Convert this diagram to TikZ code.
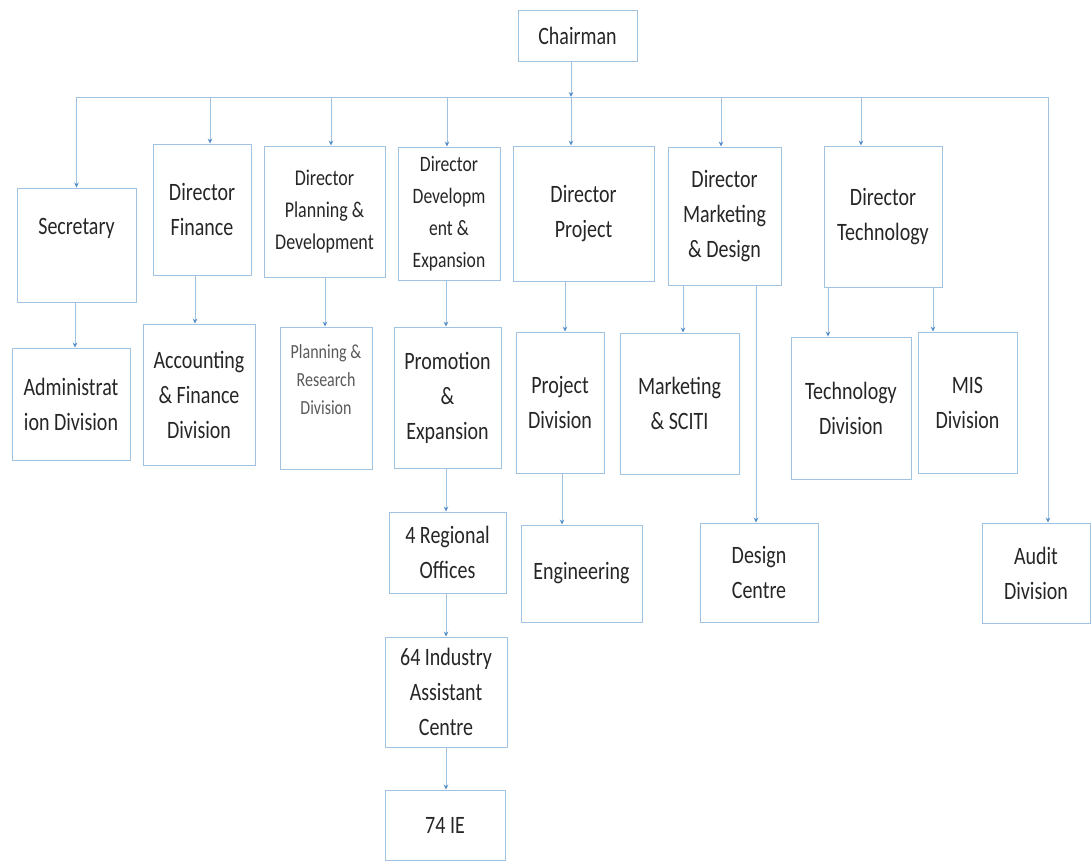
\documentclass[tikz,border=0pt]{standalone}
\usepackage{fontspec}
\setmainfont{Carlito}[FakeStretch=0.8]
\usetikzlibrary{arrows.meta}
\definecolor{boxblue}{RGB}{160,195,228}
\definecolor{tipblue}{RGB}{80,140,200}
\definecolor{inkgray}{RGB}{38,38,38}

\begin{document}
\begin{tikzpicture}[
      x=1pt,
      y=-1pt,
      txt/.style={
        text=inkgray,
        align=center,
        font=\fontsize{25}{35}\selectfont
      },
      box/.style 2 args={
        txt,
        draw=boxblue,
        line width=0.9pt,
        inner sep=2pt,
        minimum width=#1pt,
        minimum height=#2pt
      },
      conn/.style={
        draw=boxblue,
        line width=0.9pt,
        -{Stealth[length=5pt,width=4.5pt,color=tipblue]}
      },
      bus/.style={draw=boxblue, line width=0.9pt}
    ]
      \useasboundingbox (0,0) rectangle (1091,863);

      \node (chair) at (577.5,35.5) [box={119}{51}]{Chairman};

      \node (sec) at (76.5,245) [box={119}{114},label={[txt,yshift=17]center:Secretary}]{};
      \node (dfin) at (202,209.5) [box={98}{131}]{Director\\Finance};
      \node (dplan) at (324.5,211.5) [box={121}{131},font=\fontsize{22.5}{32}\selectfont]{Director\\Planning \&\\Development};
      \node (ddev) at (449,213.5) [box={102}{133},font=\fontsize{22}{32}\selectfont]{Director\\Developm\\ent \&\\Expansion};
      \node (dproj) at (583.5,213.5) [box={141}{135}]{Director\\Project};
      \node (dmkt) at (724.5,216) [box={113}{138}]{Director\\Marketing\\\& Design};
      \node (dtech) at (883,216.5) [box={118}{141}]{Director\\Technology};

      \node (adm) at (71,404) [box={118}{112}]{Administrat\\ion Division};
      \node (acc) at (199,394.5) [box={112}{141}]{Accounting\\\& Finance\\Division};
      \node (plres) at (326,398) [box={92}{142},label={[txt,text=black!65,font=\fontsize{20}{28}\selectfont,yshift=18]center:Planning \&\\Research\\Division}]{};
      \node (prom) at (447.5,397.5) [box={107}{141}]{Promotion\\\&\\Expansion};
      \node (pdiv) at (560,402.5) [box={88}{141}]{Project\\Division};
      \node (mkts) at (679.5,403.5) [box={119}{141}]{Marketing\\\& SCITI};
      \node (tdiv) at (851,408) [box={120}{142}]{Technology\\Division};
      \node (mis) at (967.5,402.5) [box={99}{141}]{MIS\\Division};

      \node (reg) at (447.5,552.5) [box={117}{81}]{4 Regional\\Offices};
      \node (eng) at (581.5,573.5) [box={121}{97}]{Engineering};
      \node (des) at (759,572.5) [box={118}{99}]{Design\\Centre};
      \node (aud) at (1036,573) [box={108}{100}]{Audit\\Division};

      \node (ind) at (446,692) [box={122}{110}]{64 Industry\\Assistant\\Centre};
      \node (ie) at (445,825) [box={120}{70}]{74 IE};

      % chairman to the bus
      \coordinate (bus) at (571,97);
      \draw[conn] ([xshift=-6.5]chair.south) -- (bus);

      % bus to the directors
      \foreach \n/\s in {sec/0,dfin/8,dplan/6.5,ddev/-2,dproj/-12.5,dmkt/-3.5,dtech/-22,aud/12}{
        \path ([xshift=\s]\n.north) coordinate (\n-top);
        \draw[conn] (bus -| \n-top) -- (\n-top);
      }
      \draw[bus] (bus -| sec-top) -- (bus -| aud-top);

      % directors to divisions
      \foreach \a/\b/\s in {sec/adm/-1.5,dfin/acc/-7,dplan/plres/0.5,ddev/prom/-3,
          prom/reg/-1.5,reg/ind/-1.5,ind/ie/0,dproj/pdiv/-18.5,pdiv/eng/2,
          dmkt/mkts/-41.5,dmkt/des/31.5,dtech/tdiv/-55,dtech/mis/50}{
        \path ([xshift=\s]\a.south) coordinate (t);
        \draw[conn] (t) -- (t |- \b.north);
      }

    \end{tikzpicture}
\end{document}
